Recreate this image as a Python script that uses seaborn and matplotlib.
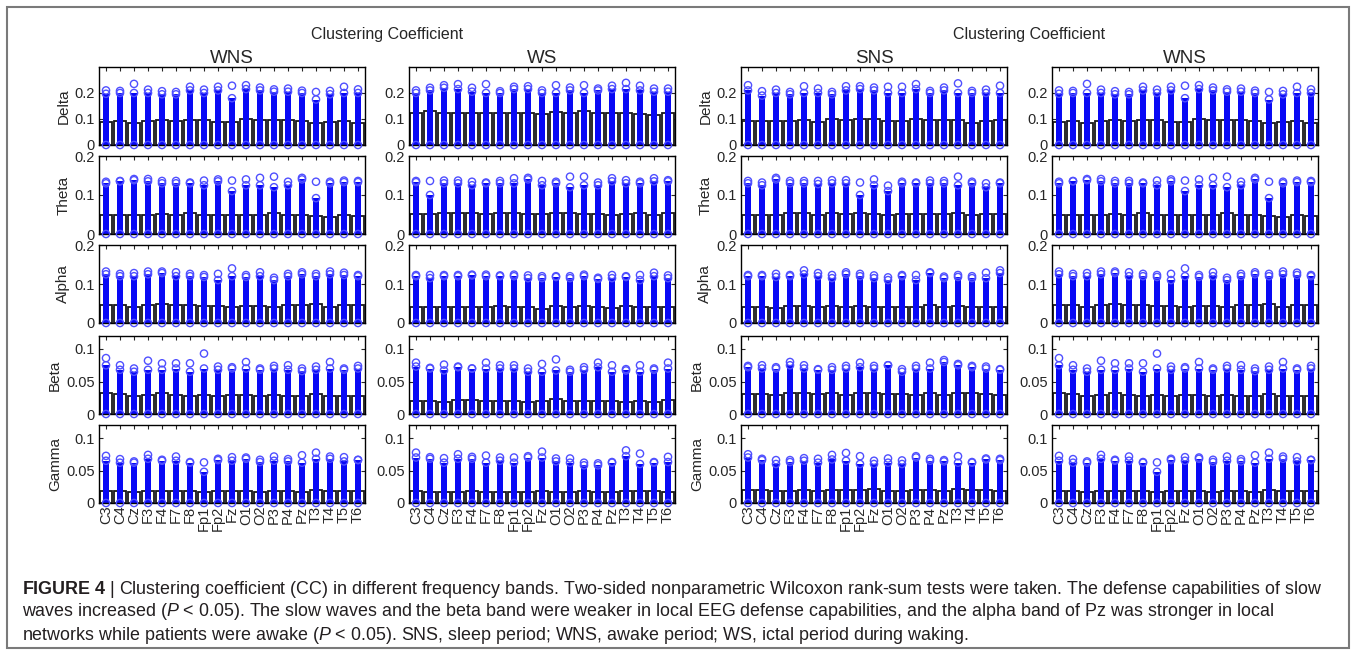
"""
Clustering coefficient per EEG channel and frequency band (FIGURE 4 re-draw).
Box = black outline up to the upper quartile, blue column = dense outliers,
open circles = extreme points.
"""

import matplotlib
matplotlib.use("Agg")
import pandas as pd
import matplotlib.pyplot as plt
import seaborn as sns
from matplotlib.patches import Rectangle
from matplotlib import font_manager

CHANNELS = ["C3", "C4", "Cz", "F3", "F4", "F7", "F8", "Fp1", "Fp2", "Fz",
            "O1", "O2", "P3", "P4", "Pz", "T3", "T4", "T5", "T6"]
BANDS = ["Delta", "Theta", "Alpha", "Beta", "Gamma"]
LOW = [0.0] * 19   # lowest circle sits on zero for every channel

# y scales per band
YLIMS = {"Delta": 0.30, "Theta": 0.20, "Alpha": 0.20, "Beta": 0.12, "Gamma": 0.12}
YTICKS = {
    "Delta": ([0, 0.1, 0.2], ["0", "0.1", "0.2"]),
    "Theta": ([0, 0.1, 0.2], ["0", "0.1", "0.2"]),
    "Alpha": ([0, 0.1, 0.2], ["0", "0.1", "0.2"]),
    "Beta": ([0, 0.05, 0.1], ["0", "0.05", "0.1"]),
    "Gamma": ([0, 0.05, 0.1], ["0", "0.05", "0.1"]),
}

# ---- WNS (awake period) ----
WNS_BOX = {
    "Delta": [0.088, 0.092, 0.085, 0.092, 0.097, 0.093, 0.097, 0.097, 0.089, 0.088,
              0.099, 0.096, 0.096, 0.096, 0.093, 0.084, 0.087, 0.091, 0.086],
    "Theta": [0.049, 0.049, 0.049, 0.049, 0.051, 0.049, 0.053, 0.049, 0.049, 0.049,
              0.050, 0.050, 0.053, 0.050, 0.050, 0.047, 0.044, 0.049, 0.047],
    "Alpha": [0.046, 0.045, 0.042, 0.046, 0.048, 0.045, 0.046, 0.043, 0.043, 0.042,
              0.043, 0.043, 0.042, 0.045, 0.046, 0.048, 0.041, 0.045, 0.045],
    "Beta": [0.032, 0.031, 0.028, 0.029, 0.032, 0.029, 0.028, 0.029, 0.028, 0.029,
             0.029, 0.028, 0.029, 0.028, 0.028, 0.031, 0.028, 0.028, 0.028],
    "Gamma": [0.019, 0.018, 0.017, 0.018, 0.018, 0.018, 0.018, 0.017, 0.018, 0.018,
              0.018, 0.017, 0.018, 0.018, 0.017, 0.020, 0.018, 0.018, 0.018],
}
WNS_TOP = {
    "Delta": [0.197, 0.200, 0.200, 0.200, 0.195, 0.195, 0.210, 0.200, 0.210, 0.180,
              0.215, 0.210, 0.205, 0.205, 0.200, 0.175, 0.195, 0.200, 0.200],
    "Theta": [0.130, 0.135, 0.138, 0.135, 0.130, 0.130, 0.130, 0.125, 0.135, 0.110,
              0.125, 0.125, 0.120, 0.125, 0.140, 0.092, 0.130, 0.133, 0.133],
    "Alpha": [0.125, 0.120, 0.120, 0.125, 0.128, 0.120, 0.120, 0.118, 0.110, 0.120,
              0.118, 0.120, 0.110, 0.120, 0.125, 0.120, 0.125, 0.123, 0.120],
    "Beta": [0.075, 0.068, 0.065, 0.068, 0.068, 0.070, 0.065, 0.070, 0.068, 0.070,
             0.070, 0.068, 0.070, 0.068, 0.066, 0.068, 0.070, 0.068, 0.070],
    "Gamma": [0.065, 0.062, 0.062, 0.068, 0.065, 0.065, 0.062, 0.048, 0.066, 0.065,
              0.068, 0.063, 0.065, 0.064, 0.062, 0.068, 0.068, 0.064, 0.066],
}
WNS_PEAK = {
    "Delta": [0.210, 0.208, 0.235, 0.213, 0.207, 0.204, 0.224, 0.213, 0.224, 0.228,
              0.230, 0.221, 0.214, 0.217, 0.209, 0.204, 0.208, 0.224, 0.214],
    "Theta": [0.134, 0.136, 0.141, 0.141, 0.136, 0.136, 0.132, 0.137, 0.140, 0.137,
              0.140, 0.144, 0.147, 0.134, 0.144, 0.134, 0.134, 0.137, 0.136],
    "Alpha": [0.132, 0.126, 0.128, 0.132, 0.132, 0.130, 0.126, 0.123, 0.126, 0.140,
              0.123, 0.130, 0.116, 0.126, 0.130, 0.126, 0.132, 0.129, 0.123],
    "Beta": [0.086, 0.075, 0.070, 0.082, 0.078, 0.078, 0.078, 0.093, 0.073, 0.072,
             0.080, 0.070, 0.074, 0.075, 0.070, 0.073, 0.080, 0.070, 0.074],
    "Gamma": [0.0725, 0.0675, 0.064, 0.074, 0.0665, 0.0715, 0.063, 0.0625, 0.068, 0.0705,
              0.070, 0.0665, 0.0715, 0.0675, 0.0735, 0.0775, 0.0715, 0.0705, 0.0665],
}

# ---- WS (ictal period during waking) ----
WS_BOX = {
    "Delta": [0.122, 0.129, 0.124, 0.125, 0.125, 0.125, 0.122, 0.122, 0.122, 0.121,
              0.128, 0.125, 0.129, 0.122, 0.122, 0.122, 0.118, 0.114, 0.125],
    "Theta": [0.051, 0.051, 0.055, 0.053, 0.053, 0.051, 0.053, 0.053, 0.051, 0.051,
              0.055, 0.053, 0.051, 0.051, 0.049, 0.051, 0.053, 0.049, 0.053],
    "Alpha": [0.041, 0.041, 0.042, 0.042, 0.042, 0.041, 0.043, 0.041, 0.041, 0.037,
              0.043, 0.042, 0.043, 0.041, 0.039, 0.043, 0.041, 0.042, 0.041],
    "Beta": [0.0205, 0.0205, 0.019, 0.0215, 0.0215, 0.020, 0.0205, 0.020, 0.019, 0.020,
             0.0225, 0.0205, 0.020, 0.020, 0.020, 0.019, 0.020, 0.018, 0.0215],
    "Gamma": [0.018, 0.017, 0.017, 0.017, 0.018, 0.017, 0.017, 0.017, 0.017, 0.018,
              0.017, 0.017, 0.018, 0.017, 0.017, 0.019, 0.018, 0.018, 0.017],
}
WS_TOP = {
    "Delta": [0.200, 0.210, 0.220, 0.215, 0.205, 0.200, 0.200, 0.215, 0.215, 0.200,
              0.200, 0.210, 0.200, 0.210, 0.215, 0.215, 0.210, 0.205, 0.205],
    "Theta": [0.133, 0.100, 0.130, 0.130, 0.125, 0.130, 0.130, 0.130, 0.140, 0.125,
              0.130, 0.120, 0.125, 0.125, 0.135, 0.130, 0.130, 0.135, 0.135],
    "Alpha": [0.120, 0.115, 0.120, 0.120, 0.122, 0.120, 0.120, 0.120, 0.115, 0.115,
              0.118, 0.115, 0.120, 0.113, 0.115, 0.118, 0.110, 0.120, 0.115],
    "Beta": [0.073, 0.070, 0.067, 0.072, 0.070, 0.070, 0.070, 0.070, 0.065, 0.065,
             0.067, 0.065, 0.068, 0.072, 0.065, 0.067, 0.065, 0.068, 0.070],
    "Gamma": [0.070, 0.068, 0.062, 0.068, 0.068, 0.062, 0.065, 0.062, 0.070, 0.070,
              0.064, 0.062, 0.058, 0.058, 0.062, 0.072, 0.060, 0.062, 0.063],
}
WS_PEAK = {
    "Delta": [0.210, 0.220, 0.230, 0.234, 0.220, 0.234, 0.207, 0.224, 0.226, 0.210,
              0.230, 0.221, 0.230, 0.217, 0.228, 0.239, 0.228, 0.217, 0.217],
    "Theta": [0.136, 0.136, 0.137, 0.137, 0.134, 0.132, 0.136, 0.143, 0.144, 0.136,
              0.134, 0.147, 0.147, 0.132, 0.143, 0.138, 0.134, 0.143, 0.138],
    "Alpha": [0.123, 0.123, 0.123, 0.123, 0.124, 0.124, 0.122, 0.124, 0.122, 0.120,
              0.120, 0.120, 0.124, 0.116, 0.123, 0.120, 0.123, 0.129, 0.122],
    "Beta": [0.079, 0.071, 0.076, 0.073, 0.070, 0.079, 0.075, 0.075, 0.070, 0.077,
             0.084, 0.068, 0.072, 0.079, 0.075, 0.069, 0.075, 0.070, 0.079],
    "Gamma": [0.0775, 0.0705, 0.069, 0.075, 0.071, 0.073, 0.070, 0.070, 0.072, 0.079,
              0.0685, 0.0685, 0.062, 0.061, 0.063, 0.081, 0.076, 0.063, 0.071],
}

# ---- SNS (sleep period) ----
SNS_BOX = {
    "Delta": [0.092, 0.091, 0.091, 0.092, 0.096, 0.088, 0.101, 0.095, 0.099, 0.101,
              0.091, 0.091, 0.101, 0.095, 0.095, 0.097, 0.086, 0.092, 0.095],
    "Theta": [0.050, 0.050, 0.049, 0.053, 0.053, 0.049, 0.053, 0.051, 0.055, 0.051,
              0.050, 0.051, 0.051, 0.051, 0.051, 0.055, 0.049, 0.051, 0.051],
    "Alpha": [0.042, 0.042, 0.039, 0.043, 0.043, 0.041, 0.043, 0.042, 0.043, 0.042,
              0.041, 0.042, 0.042, 0.045, 0.041, 0.043, 0.041, 0.042, 0.042],
    "Beta": [0.031, 0.031, 0.029, 0.032, 0.033, 0.031, 0.032, 0.030, 0.033, 0.032,
             0.031, 0.031, 0.030, 0.032, 0.029, 0.033, 0.032, 0.031, 0.030],
    "Gamma": [0.020, 0.020, 0.019, 0.019, 0.020, 0.019, 0.020, 0.020, 0.020, 0.021,
              0.019, 0.019, 0.020, 0.020, 0.019, 0.021, 0.020, 0.020, 0.019],
}
SNS_TOP = {
    "Delta": [0.210, 0.190, 0.200, 0.195, 0.200, 0.200, 0.195, 0.210, 0.215, 0.210,
              0.200, 0.200, 0.215, 0.200, 0.210, 0.200, 0.200, 0.200, 0.200],
    "Theta": [0.130, 0.125, 0.140, 0.130, 0.130, 0.128, 0.130, 0.130, 0.100, 0.125,
              0.110, 0.130, 0.130, 0.130, 0.130, 0.125, 0.130, 0.120, 0.130],
    "Alpha": [0.120, 0.120, 0.118, 0.120, 0.125, 0.120, 0.115, 0.125, 0.120, 0.115,
              0.110, 0.120, 0.110, 0.128, 0.115, 0.118, 0.115, 0.115, 0.128],
    "Beta": [0.072, 0.070, 0.070, 0.075, 0.070, 0.068, 0.068, 0.070, 0.072, 0.070,
             0.075, 0.065, 0.070, 0.070, 0.080, 0.075, 0.072, 0.070, 0.068],
    "Gamma": [0.070, 0.066, 0.060, 0.063, 0.065, 0.062, 0.067, 0.065, 0.060, 0.060,
              0.062, 0.060, 0.070, 0.065, 0.064, 0.062, 0.062, 0.067, 0.066],
}
SNS_PEAK = {
    "Delta": [0.230, 0.207, 0.213, 0.204, 0.226, 0.217, 0.204, 0.226, 0.226, 0.221,
              0.224, 0.224, 0.234, 0.208, 0.221, 0.237, 0.208, 0.213, 0.228],
    "Theta": [0.136, 0.132, 0.144, 0.136, 0.136, 0.136, 0.138, 0.138, 0.132, 0.140,
              0.124, 0.134, 0.132, 0.137, 0.136, 0.147, 0.134, 0.130, 0.132],
    "Alpha": [0.123, 0.123, 0.126, 0.123, 0.135, 0.128, 0.123, 0.130, 0.126, 0.122,
              0.117, 0.123, 0.123, 0.130, 0.119, 0.123, 0.120, 0.129, 0.135],
    "Beta": [0.074, 0.075, 0.072, 0.080, 0.075, 0.069, 0.072, 0.074, 0.079, 0.074,
             0.075, 0.069, 0.074, 0.079, 0.083, 0.077, 0.074, 0.073, 0.069],
    "Gamma": [0.075, 0.068, 0.066, 0.066, 0.069, 0.068, 0.074, 0.077, 0.072, 0.065,
              0.0685, 0.0655, 0.072, 0.068, 0.066, 0.072, 0.063, 0.0685, 0.068],
}

# column order as in the figure (left pair + right pair)
PANELS = [
    ("WNS", WNS_BOX, WNS_TOP, WNS_PEAK),
    ("WS", WS_BOX, WS_TOP, WS_PEAK),
    ("SNS", SNS_BOX, SNS_TOP, SNS_PEAK),
    ("WNS", WNS_BOX, WNS_TOP, WNS_PEAK),
]
SUPTITLE = "Clustering Coefficient"
CAPTION = [
    r"$\mathbf{FIGURE\ 4}$ | Clustering coefficient (CC) in different frequency bands. "
    r"Two-sided nonparametric Wilcoxon rank-sum tests were taken. The defense capabilities of slow",
    r"waves increased ($P$ < 0.05). The slow waves and the beta band were weaker in local EEG "
    r"defense capabilities, and the alpha band of Pz was stronger in local",
    r"networks while patients were awake ($P$ < 0.05). SNS, sleep period; WNS, awake period; "
    r"WS, ictal period during waking.",
]

BOX_EDGE = "#1a1a1a"
COLUMN_BLUE = "#0808f5"
CIRCLE_BLUE = "#4f4fff"

W, H = 1357, 655
COL_LEFT = [99, 409, 741, 1052]
ROW_TOP = [67, 156, 245, 336, 425]
AX_W, AX_H = 266, 78

sns.set_style("white")
plt.rcParams["font.family"] = ["Liberation Sans", "DejaVu Sans"]
installed = {f.name for f in font_manager.fontManager.ttflist}
CAPTION_FONT = "Liberation Sans Narrow" if "Liberation Sans Narrow" in installed else "Liberation Sans"
plt.rcParams["mathtext.fontset"] = "custom"
plt.rcParams["mathtext.rm"] = CAPTION_FONT
plt.rcParams["mathtext.it"] = CAPTION_FONT + ":italic"
plt.rcParams["mathtext.bf"] = CAPTION_FONT + ":bold"


def draw_panel(ax, box, top, peak, band, show_ylabel, show_xlabels):
    df = pd.DataFrame({"channel": CHANNELS, "box": box[band], "top": top[band],
                       "peak": peak[band], "low": LOW})
    sns.barplot(data=df, x="channel", y="box", order=CHANNELS, width=0.88,
                color="white", edgecolor=BOX_EDGE, linewidth=1.3, saturation=1,
                errorbar=None, ax=ax)
    sns.barplot(data=df, x="channel", y="top", order=CHANNELS, width=0.46,
                color=COLUMN_BLUE, linewidth=0, saturation=1, errorbar=None, ax=ax)
    pts = df.melt(id_vars="channel", value_vars=["low", "top", "peak"])
    sns.stripplot(data=pts, x="channel", y="value", order=CHANNELS, jitter=False,
                  size=5.2, color=CIRCLE_BLUE, ax=ax)
    for coll in ax.collections:
        coll.set_facecolor("none")
        coll.set_edgecolor(CIRCLE_BLUE)
        coll.set_linewidth(1.0)
        coll.set_clip_on(False)

    ax.set_ylim(0, YLIMS[band])
    ticks, labels = YTICKS[band]
    ax.set_yticks(ticks)
    ax.set_yticklabels(labels)
    ax.set_xlim(-0.5, len(CHANNELS) - 0.5)
    ax.tick_params(direction="in", top=True, right=True, bottom=True, left=True,
                   length=3, width=0.8, labelsize=10.5, pad=3)
    ax.tick_params(axis="x", labelrotation=90, labelbottom=show_xlabels, pad=2)
    ax.set_xlabel("")
    ax.set_ylabel(band if show_ylabel else "", fontsize=11, labelpad=3)
    for s in ax.spines.values():
        s.set_visible(True)
        s.set_color("black")
        s.set_linewidth(1.0)


fig = plt.figure(figsize=(W / 100, H / 100), dpi=100)

for c, (name, box, top, peak) in enumerate(PANELS):
    for r, band in enumerate(BANDS):
        left = COL_LEFT[c] / W
        bottom = 1 - (ROW_TOP[r] + AX_H) / H
        ax = fig.add_axes([left, bottom, AX_W / W, AX_H / H])
        draw_panel(ax, box, top, peak, band, show_ylabel=(c % 2 == 0),
                   show_xlabels=(r == len(BANDS) - 1))
        if r == 0:
            ax.set_title(name, fontsize=13.5, pad=2)

# one super-title per figure pair
for c0 in (0, 2):
    cx = (COL_LEFT[c0] + COL_LEFT[c0 + 1] + AX_W) / 2 / W
    fig.text(cx, 1 - 35 / H, SUPTITLE, ha="center", va="center", fontsize=11.5)

for i, line in enumerate(CAPTION):
    fig.text(22 / W, 1 - (589 + 23 * i) / H, line, ha="left", va="center",
             fontsize=12.9, family=CAPTION_FONT, color="#231f20")

fig.add_artist(Rectangle((7 / W, 1 - 648 / H), (1349 - 7) / W, (648 - 7) / H,
                         transform=fig.transFigure, fill=False,
                         edgecolor="#7a7a7a", linewidth=1.5))

fig.savefig("out.png", dpi=100)
